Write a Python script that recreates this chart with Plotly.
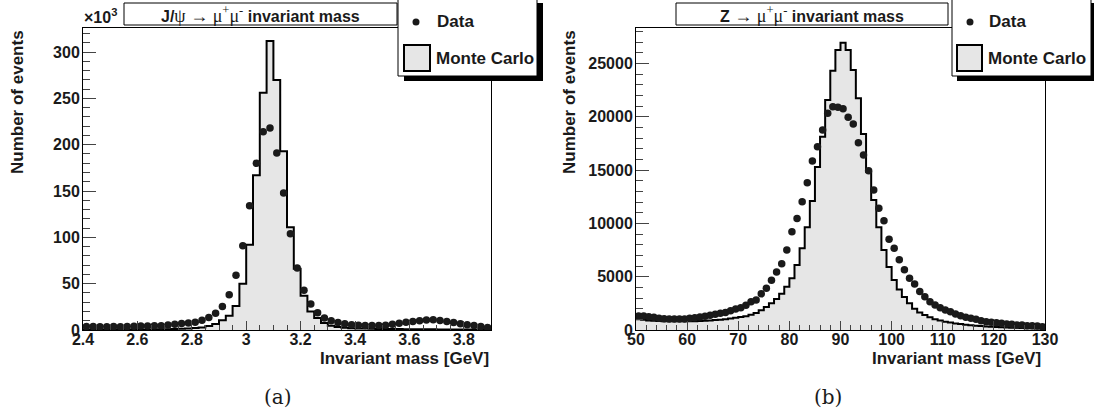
import numpy as np
import plotly.graph_objects as go

W, H = 1094, 418

# ---------------- data (J/psi panel, counts in units of 10^3, 0.025 GeV bins from 2.4 to 3.9)
jpsi_lo, jpsi_hi = 2.4, 3.9
jpsi_mc = [0.3, 0.3, 0.3, 0.35, 0.35, 0.4, 0.4, 0.45, 0.5, 0.55, 0.6, 0.7, 0.8, 1.0, 1.3, 1.7,
           2.2, 2.8, 4.3, 6.5, 10.5, 15.5, 26, 50, 92, 167, 256, 312, 270, 193,
           111, 66, 37, 20, 13, 7.5, 4.5, 3.2, 2.5, 2.0, 1.7, 1.5, 1.3, 1.2, 1.1,
           1.0, 0.95, 0.9, 0.85, 0.8, 0.75, 0.7, 0.65, 0.6, 0.55, 0.5, 0.5, 0.45, 0.4, 0.4]
jpsi_data = [3.8, 3.7, 3.6, 3.6, 3.7, 3.6, 3.7, 4.1, 4.2, 4.3, 4.5, 4.7, 5.4, 6.1, 7.0,
             7.6, 8.4, 10.5, 13.5, 18, 25.5, 38, 59, 91, 134, 180, 214, 218, 191, 148,
             104, 67, 43, 28, 18.5, 13, 10, 8, 6.8, 5.6, 5.0, 4.8, 4.8, 4.9, 5.2,
             6.1, 7.2, 8.3, 9.2, 10, 10.8, 11, 10.3, 9.2, 8, 6.8, 5.6, 4.8, 3.8, 2.7]

# ---------------- data (Z panel, 1 GeV bins from 50 to 130)
z_lo, z_hi = 50, 130
z_mc = [1000, 950, 900, 870, 850, 830, 820, 810, 810, 810,
        820, 830, 850, 870, 900, 930, 970, 1020, 1080, 1150,
        1220, 1300, 1420, 1600, 1850, 2150, 2500, 2900, 3400, 4050,
        4850, 6100, 7660, 9630, 12100, 15300, 18130, 21570, 24320, 26270,
        26950, 26270, 24390, 21730, 18390, 14850, 12200, 9630, 7500, 5900,
        4700, 3800, 3100, 2500, 2000, 1650, 1400, 1200, 1000, 900,
        780, 700, 620, 560, 500, 450, 410, 370, 340, 310,
        280, 260, 240, 220, 200, 190, 175, 165, 150, 140]
z_data = [1313, 1313, 1250, 1188, 1094, 1060, 1032, 1032, 1032, 1040,
          1094, 1150, 1220, 1290, 1376, 1470, 1563, 1650, 1814, 1970,
          2095, 2314, 2658, 2814, 3390, 3920, 4660, 5430, 6220, 7500,
          9220, 10470, 12030, 13810, 15850, 17190, 18760, 20330, 20950, 20890,
          20760, 19950, 19320, 17570, 16420, 14940, 13130, 11420, 10250, 8510,
          7660, 6600, 5660, 4850, 4320, 3600, 3127, 2658, 2345, 2095,
          1876, 1720, 1500, 1345, 1188, 1094, 1000, 876, 782, 720,
          688, 626, 563, 532, 469, 469, 407, 407, 375, 313]

jpsi_xticks = [2.4, 2.6, 2.8, 3.0, 3.2, 3.4, 3.6, 3.8]
jpsi_xticktext = ["2.4", "2.6", "2.8", "3", "3.2", "3.4", "3.6", "3.8"]
jpsi_yticks = [0, 50, 100, 150, 200, 250, 300]
z_xticks = [50, 60, 70, 80, 90, 100, 110, 120, 130]
z_yticks = [0, 5000, 10000, 15000, 20000, 25000]

# ---------------- helpers
def px(x):
    return x / W

def py(y):
    return 1 - y / H

FONT = "Liberation Sans"
TXT = "#1a1a1a"
FILL = "#e6e6e6"

def hist_xy(values, lo, hi):
    edges = np.linspace(lo, hi, len(values) + 1)
    return edges, list(values) + [values[-1]]

def centers(values, lo, hi):
    edges = np.linspace(lo, hi, len(values) + 1)
    return (edges[:-1] + edges[1:]) / 2

fig = go.Figure()

ex, ey = hist_xy(jpsi_mc, jpsi_lo, jpsi_hi)
fig.add_trace(go.Scatter(x=ex, y=ey, mode="lines", line=dict(shape="hv", color="black", width=2),
                         fill="tozeroy", fillcolor=FILL, xaxis="x", yaxis="y", showlegend=False))
fig.add_trace(go.Scatter(x=centers(jpsi_data, jpsi_lo, jpsi_hi), y=jpsi_data, mode="markers",
                         marker=dict(size=7.5, color=TXT), xaxis="x", yaxis="y", showlegend=False))

ex, ey = hist_xy(z_mc, z_lo, z_hi)
fig.add_trace(go.Scatter(x=ex, y=ey, mode="lines", line=dict(shape="hv", color="black", width=2),
                         fill="tozeroy", fillcolor=FILL, xaxis="x2", yaxis="y2", showlegend=False))
fig.add_trace(go.Scatter(x=centers(z_data, z_lo, z_hi), y=z_data, mode="markers",
                         marker=dict(size=7.5, color=TXT), xaxis="x2", yaxis="y2", showlegend=False))

tickfont = dict(family=FONT, size=16, color=TXT, weight="bold")
common = dict(showline=True, linecolor="black", linewidth=1, mirror=True, showgrid=False,
              zeroline=False, ticks="inside", tickcolor="#444", tickfont=tickfont,
              automargin=False)

ydom = [py(330), py(28)]
fig.update_layout(
    width=W, height=H, margin=dict(l=0, r=0, t=0, b=0, pad=0, autoexpand=False), autosize=False,
    paper_bgcolor="white", plot_bgcolor="white", showlegend=False,
    xaxis=dict(domain=[px(83), px(491)], range=[jpsi_lo, jpsi_hi], anchor="y",
               tickmode="array", tickvals=jpsi_xticks, ticktext=jpsi_xticktext, ticklen=9,
               ticklabelstandoff=-5,
               minor=dict(ticks="inside", ticklen=5, dtick=0.05, tick0=2.4, tickcolor="#444"),
               **common),
    yaxis=dict(domain=ydom, range=[0, 326], anchor="x", tickmode="array", tickvals=jpsi_yticks,
               ticklen=13, ticklabelstandoff=-1,
               minor=dict(ticks="inside", ticklen=7, dtick=10, tick0=0, tickcolor="#444"),
               **common),
    xaxis2=dict(domain=[px(636), px(1045)], range=[z_lo, z_hi], anchor="y2",
                tickmode="array", tickvals=z_xticks, ticklen=9, ticklabelstandoff=-5,
                minor=dict(ticks="inside", ticklen=5, dtick=2, tick0=50, tickcolor="#444"),
                **common),
    yaxis2=dict(domain=ydom, range=[0, 28330], anchor="x2", tickmode="array", tickvals=z_yticks,
                tickformat="d", ticklen=13, ticklabelstandoff=-1,
                minor=dict(ticks="inside", ticklen=7, dtick=1000, tick0=0, tickcolor="#444"),
                **common),
)

shapes = []
ann = []

def rect(x0, y0, x1, y1, fill="white", line="black", lw=1):
    shapes.append(dict(type="rect", xref="paper", yref="paper", x0=px(x0), x1=px(x1),
                       y0=py(y1), y1=py(y0), fillcolor=fill,
                       line=dict(color=line, width=lw), layer="above"))

def text(x, y, s, size=17, xanchor="center", yanchor="middle", family=FONT, weight="bold",
         angle=0, color=TXT):
    ann.append(dict(x=px(x), y=py(y), xref="paper", yref="paper", text=s, showarrow=False,
                    xanchor=xanchor, yanchor=yanchor, textangle=angle,
                    font=dict(family=family, size=size, color=color, weight=weight)))

G = "font-family:Liberation Serif;font-weight:normal;font-size:18px"
ARROW = f"<span style='{G}'> → μ<sup>+</sup>μ<sup>-</sup></span>"

# Panel (a)
rect(124, 3, 397, 25)
text(260, 14.5, "J/<span style='" + G + "'>ψ</span>" + ARROW + " invariant mass", size=16)
rect(404, 3, 543, 81, fill="black", lw=0)
rect(398, -3, 537, 76)
shapes.append(dict(type="circle", xref="paper", yref="paper", x0=px(412.5), x1=px(419.5),
                   y0=py(25.5), y1=py(18.5), fillcolor=TXT, line=dict(width=0), layer="above"))
text(435, 22, "Data", xanchor="left")
rect(404, 45, 430, 71, fill=FILL, lw=2)
text(434, 58.5, "Monte Carlo", xanchor="left")
text(17, 28, "Number of events", angle=-90, yanchor="top")
text(82, 28, "×10<sup>3</sup>", size=16, xanchor="left", yanchor="bottom")
text(491, 358, "Invariant mass [GeV]", xanchor="right")
text(278, 397, "(a)", size=20, family="DejaVu Serif", weight="normal")

# Panel (b)
rect(676, 3, 948, 25)
text(812, 14.5, "Z" + ARROW + " invariant mass", size=16)
rect(957, 3, 1100, 81, fill="black", lw=0)
rect(952, -3, 1091, 76)
shapes.append(dict(type="circle", xref="paper", yref="paper", x0=px(966.5), x1=px(973.5),
                   y0=py(25.5), y1=py(18.5), fillcolor=TXT, line=dict(width=0), layer="above"))
text(987, 22, "Data", xanchor="left")
rect(957, 45, 982, 71, fill=FILL, lw=2)
text(986, 58.5, "Monte Carlo", xanchor="left")
text(569, 28, "Number of events", angle=-90, yanchor="top")
text(1043, 358, "Invariant mass [GeV]", xanchor="right")
text(828, 397, "(b)", size=20, family="DejaVu Serif", weight="normal")

fig.update_layout(shapes=shapes, annotations=ann)
fig.write_html("out.html", config={"displayModeBar": False},
               post_script="document.body.style.margin='0';document.body.style.overflow='hidden';")
